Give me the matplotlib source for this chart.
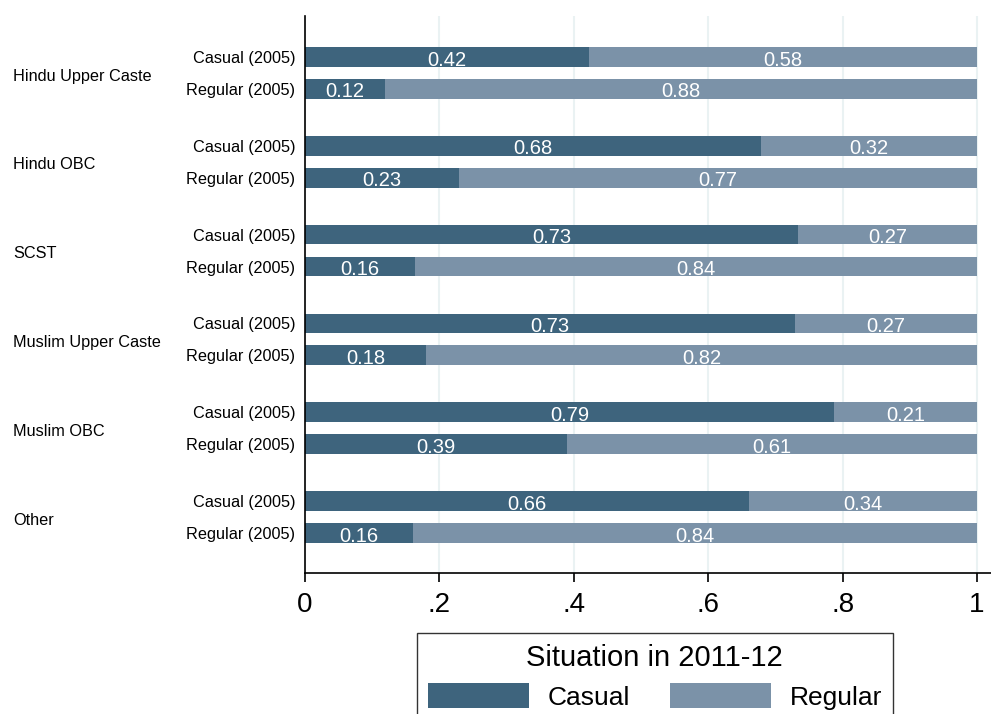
import matplotlib
matplotlib.use("Agg")
import matplotlib.pyplot as plt
from matplotlib.patches import Patch
from matplotlib.transforms import blended_transform_factory
import numpy as np

plt.rcParams["font.family"] = ["Liberation Sans", "DejaVu Sans"]

groups = ["Hindu Upper Caste", "Hindu OBC", "SCST", "Muslim Upper Caste",
          "Muslim OBC", "Other"]
rows = ["Casual (2005)", "Regular (2005)"]
# share casual in 2011-12, for casual-2005 and regular-2005 workers
casual_from_casual = [0.422, 0.678, 0.734, 0.729, 0.787, 0.660]
casual_from_regular = [0.119, 0.229, 0.163, 0.180, 0.390, 0.161]
legend_labels = ["Casual", "Regular"]
legend_title = "Situation in 2011-12"
xticks = [0, 0.2, 0.4, 0.6, 0.8, 1.0]
xtick_labels = ["0", ".2", ".4", ".6", ".8", "1"]

C_CAS = "#3e647d"
C_REG = "#7b92a8"
GRID = "#eaf2f3"

fig = plt.figure(figsize=(9.91, 7.14), dpi=100)
ax = fig.add_axes([305 / 991, 141 / 714, 686 / 991, 557 / 714])

spacing = 2.78
ypos, cas, labels = [], [], []
for g in range(len(groups)):
    ypos += [g * spacing, g * spacing + 1]
    cas += [casual_from_casual[g], casual_from_regular[g]]
    labels += rows
ypos = np.array(ypos)
cas = np.array(cas)
reg = 1 - cas

h = 0.62
ax.barh(ypos, cas, height=h, color=C_CAS, zorder=2)
ax.barh(ypos, reg, left=cas, height=h, color=C_REG, zorder=2)

for y, c, r in zip(ypos, cas, reg):
    ax.text(c / 2, y + 0.27, f"{c:.2f}", ha="center", va="baseline",
            color="white", fontsize=14.5, zorder=3)
    ax.text(c + r / 2, y + 0.27, f"{r:.2f}", ha="center", va="baseline",
            color="white", fontsize=14.5, zorder=3)

ax.set_xlim(0, 686 / 672)
ax.set_ylim(5 * spacing + 1 + 1.25, -1.28)

ax.set_yticks(ypos)
ax.set_yticklabels(labels, fontsize=11.7)
ax.tick_params(axis="y", length=0, pad=7)

ax.set_xticks(xticks)
ax.set_xticklabels(xtick_labels, fontsize=20)
ax.tick_params(axis="x", length=6.5, width=1.2, pad=7)

ax.grid(axis="x", color=GRID, linewidth=1.5, zorder=0)
ax.set_axisbelow(True)
for s in ["top", "right"]:
    ax.spines[s].set_visible(False)
for s in ["left", "bottom"]:
    ax.spines[s].set_linewidth(1.2)

# group names sit in the left margin, between their two bars
trans = blended_transform_factory(fig.transFigure, ax.transData)
for g, name in enumerate(groups):
    ax.text(13 / 991, g * spacing + 0.6, name, transform=trans,
            ha="left", va="center", fontsize=11.7)

handles = [Patch(facecolor=C_CAS), Patch(facecolor=C_REG)]
leg = fig.legend(handles, legend_labels, title=legend_title, ncol=2,
                 loc="upper left", bbox_to_anchor=(417 / 991, 81 / 714),
                 bbox_transform=fig.transFigure, borderaxespad=0,
                 fontsize=19, title_fontsize=21, handlelength=3.85,
                 handleheight=1.06, handletextpad=0.7, columnspacing=1.5,
                 borderpad=0.4, labelspacing=0.45, fancybox=False,
                 framealpha=1, edgecolor="#333333")
leg.get_frame().set_linewidth(1.0)

fig.savefig("out.png", dpi=100)
